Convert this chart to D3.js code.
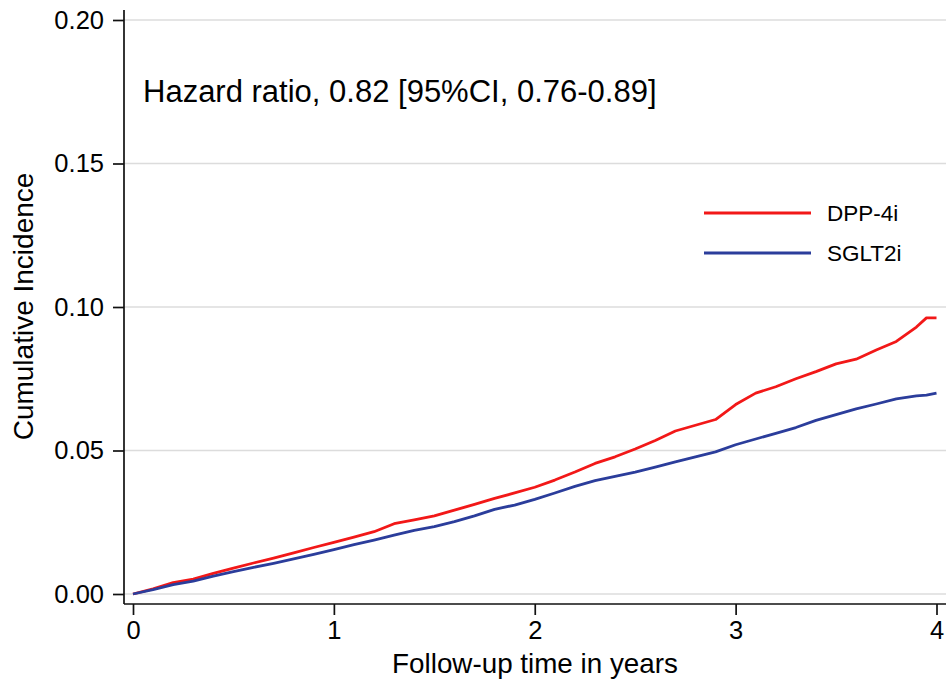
<!DOCTYPE html>
<html><head><meta charset="utf-8">
<script src="https://cdn.jsdelivr.net/npm/d3@7"></script>
<style>html,body{margin:0;padding:0;background:#fff}svg{display:block}text{font-family:"Liberation Sans",Arial,sans-serif;fill:#000}</style>
</head><body>
<script>
const years = [0,0.1,0.2,0.3,0.4,0.5,0.6,0.7,0.8,0.9,1.0,1.1,1.2,1.3,1.4,1.5,1.6,1.7,1.8,1.9,2.0,2.1,2.2,2.3,2.4,2.5,2.6,2.7,2.8,2.9,3.0,3.1,3.2,3.3,3.4,3.5,3.6,3.7,3.8,3.9,3.95,4.0];
const dpp4i = [0,0.0018,0.0040,0.0052,0.0072,0.0090,0.0108,0.0125,0.0143,0.0162,0.0180,0.0198,0.0217,0.0245,0.0258,0.0272,0.0292,0.0312,0.0333,0.0352,0.0372,0.0397,0.0425,0.0455,0.0478,0.0505,0.0535,0.0568,0.0588,0.0608,0.0660,0.0700,0.0722,0.0750,0.0775,0.0802,0.0818,0.0850,0.0880,0.0930,0.0962,0.0962];
const sglt2i = [0,0.0015,0.0033,0.0045,0.0062,0.0078,0.0093,0.0107,0.0122,0.0138,0.0155,0.0172,0.0188,0.0205,0.0222,0.0235,0.0252,0.0272,0.0295,0.0310,0.0330,0.0352,0.0375,0.0395,0.0410,0.0425,0.0442,0.0460,0.0478,0.0495,0.0520,0.0540,0.0560,0.0580,0.0605,0.0625,0.0645,0.0662,0.0680,0.0690,0.0693,0.0700];
const series = [{name:"DPP-4i", values:dpp4i, color:"#f21818"},{name:"SGLT2i", values:sglt2i, color:"#2b3d9b"}];
const xTicks = [0,1,2,3,4];
const yTicks = [0,0.05,0.10,0.15,0.20];
const title = "Hazard ratio, 0.82 [95%CI, 0.76-0.89]";
const xLabel = "Follow-up time in years";
const yLabel = "Cumulative Incidence";

const W=948,H=685;
const svg=d3.select("body").append("svg").attr("width",W).attr("height",H);
const x=d3.scaleLinear().domain([0,4]).range([133,936.5]);
const y=d3.scaleLinear().domain([0,0.2]).range([594,20]);
const left=124, right=946, bottom=604;

svg.append("g").selectAll("line").data(yTicks).join("line")
  .attr("x1",left).attr("x2",right).attr("y1",d=>y(d)).attr("y2",d=>y(d))
  .attr("stroke","#dcdcdc").attr("stroke-width",1.6);

const ya=svg.append("g").attr("transform",`translate(${left},0)`)
  .call(d3.axisLeft(y).tickValues(yTicks).tickFormat(d3.format(".2f")).tickSize(11).tickPadding(9));
ya.select(".domain").attr("d",`M0,10V${bottom}`).attr("stroke","#111").attr("stroke-width",1.7);
ya.selectAll(".tick line").attr("stroke","#111").attr("stroke-width",1.7);
ya.selectAll(".tick text").attr("font-size",25.5).attr("fill","#000").attr("font-family","Liberation Sans, Arial, sans-serif");

const xa=svg.append("g").attr("transform",`translate(0,${bottom})`)
  .call(d3.axisBottom(x).tickValues(xTicks).tickFormat(d3.format("d")).tickSize(11).tickPadding(6));
xa.select(".domain").attr("d",`M${left},0H${right}`).attr("stroke","#111").attr("stroke-width",1.7);
xa.selectAll(".tick line").attr("stroke","#111").attr("stroke-width",1.7);
xa.selectAll(".tick text").attr("font-size",25.5).attr("fill","#000").attr("font-family","Liberation Sans, Arial, sans-serif");

const line=d3.line().x((d,i)=>x(years[i])).y(d=>y(d)).curve(d3.curveLinear);
series.forEach(s=>{
  svg.append("path").attr("d",line(s.values)).attr("fill","none")
    .attr("stroke",s.color).attr("stroke-width",2.8).attr("stroke-linejoin","round");
});

svg.append("text").attr("x",143).attr("y",102).attr("font-size",31).text(title);

const lg=svg.append("g");
series.forEach((s,i)=>{
  const yy=213+i*40;
  lg.append("line").attr("x1",704).attr("x2",811).attr("y1",yy).attr("y2",yy).attr("stroke",s.color).attr("stroke-width",2.8);
  lg.append("text").attr("x",827).attr("y",yy).attr("dy","0.36em").attr("font-size",22.5).text(s.name);
});

svg.append("text").attr("x",535).attr("y",673).attr("text-anchor","middle").attr("font-size",27.8).text(xLabel);
svg.append("text").attr("transform","translate(33,306.5) rotate(-90)").attr("text-anchor","middle").attr("font-size",28).text(yLabel);
</script>
</body></html>
